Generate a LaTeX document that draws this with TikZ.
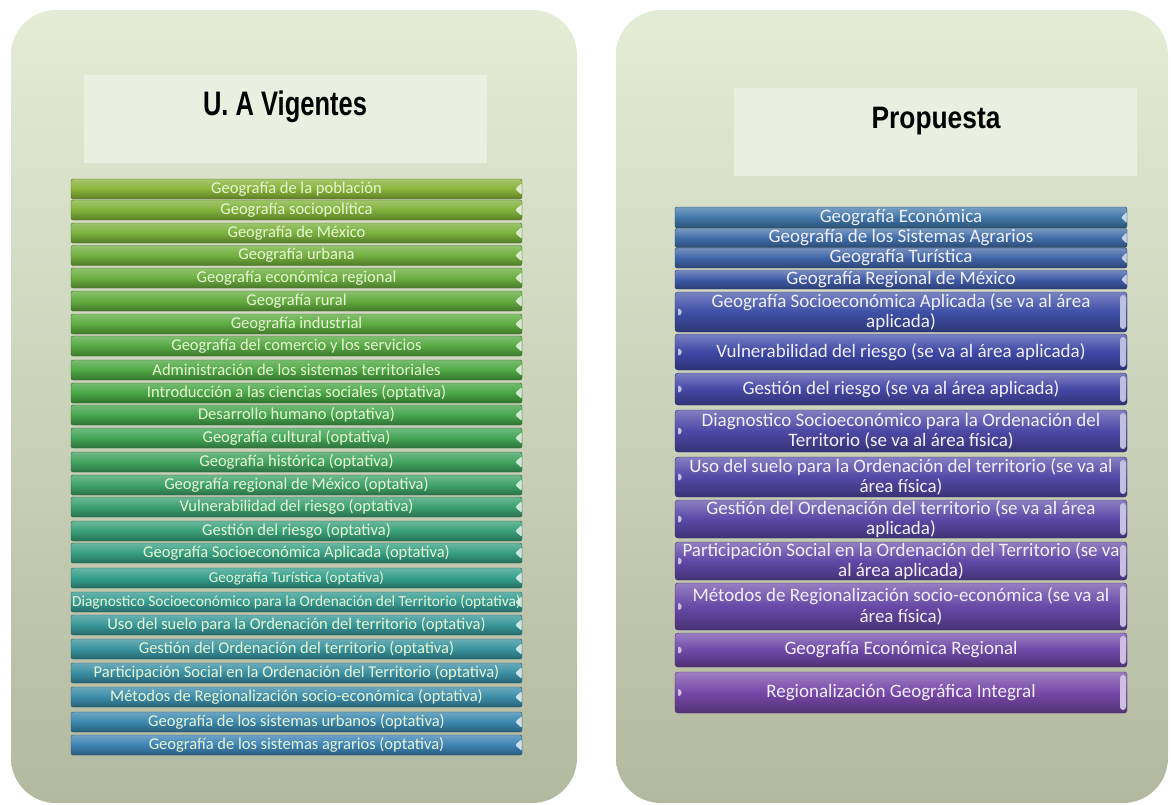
\documentclass[tikz,border=0pt]{standalone}
\usepackage{fontspec}
\setmainfont{Carlito}
\newfontfamily\headfont{Liberation Sans}
\usepackage{graphicx}
\definecolor{vA}{HTML}{88B43A}
\definecolor{vB}{HTML}{47A644}
\definecolor{vC}{HTML}{359E8C}
\definecolor{vD}{HTML}{3D83B4}
\definecolor{pA}{HTML}{3F76A8}
\definecolor{pB}{HTML}{3E48A6}
\definecolor{pC}{HTML}{7748A8}
\definecolor{boxtop}{HTML}{E4ECD6}
\definecolor{boxbot}{HTML}{B3B99F}
\definecolor{band}{HTML}{E9F0E0}
\definecolor{vtext}{HTML}{E8F5D5}
\definecolor{ptext}{HTML}{F2F0FF}

\begin{document}
\begin{tikzpicture}[x=1pt,y=-1pt,
    band/.style={fill=band,minimum width=403pt,minimum height=88pt,inner sep=0pt},
    head/.style={anchor=base,font=\headfont\bfseries\fontsize{34}{36}\selectfont},
    vbar/.style={minimum width=451pt,minimum height=20pt,inner sep=0pt,rounded corners=2pt,
        draw=#1!60!black,top color=#1!75!white,bottom color=#1!70!black,middle color=#1,
        text=vtext,font=\fontsize{16.5}{17}\selectfont,
        path picture={\fill[#1!25!white] ([yshift=6pt]path picture bounding box.east)
            -- ([xshift=-7pt]path picture bounding box.east)
            -- ([yshift=-6pt]path picture bounding box.east) -- cycle;}},
    ptop/.style={minimum width=452pt,minimum height=19pt,inner sep=0pt,rounded corners=2pt,
        draw=#1!60!black,top color=#1!70!white,bottom color=#1!70!black,middle color=#1,
        text=ptext,font=\fontsize{19}{20}\selectfont,
        path picture={\fill[#1!30!white] ([yshift=6pt]path picture bounding box.east)
            -- ([xshift=-6pt]path picture bounding box.east)
            -- ([yshift=-6pt]path picture bounding box.east) -- cycle;}},
    pbar/.style 2 args={minimum width=452pt,minimum height=#2,inner sep=0pt,align=center,
        rounded corners=3pt,draw=#1!60!black,top color=#1!70!white,bottom color=#1!70!black,
        middle color=#1,text=ptext,font=\fontsize{19}{20.5}\selectfont,
        path picture={
            \fill[#1!35!white] ([xshift=3pt,yshift=5pt]path picture bounding box.west)
                -- ([xshift=8pt]path picture bounding box.west)
                -- ([xshift=3pt,yshift=-5pt]path picture bounding box.west) -- cycle;
            \fill[#1!35!white,rounded corners=3pt]
                ([xshift=-7pt,yshift=-3pt]path picture bounding box.north east)
                rectangle ([xshift=-1pt,yshift=3pt]path picture bounding box.south east);}}]

\useasboundingbox (0,0) rectangle (1171,804);

% the two panels
\shade[rounded corners=45pt,top color=boxtop,bottom color=boxbot] (11,10) rectangle (577,803);
\shade[rounded corners=45pt,top color=boxtop,bottom color=boxbot] (616,10) rectangle (1168,803);

\node[band] (bv) at (285.5,119) {};
\node[band] (bp) at (935,131.5) {};
\node[head] (tv) at (285,115) {\scalebox{0.75}[1]{U. A Vigentes}};
\node[head,font=\headfont\bfseries\fontsize{31}{33}\selectfont] (tp) at (936,128) {\scalebox{0.85}[1]{Propuesta}};

% U. A vigentes
\node[vbar=vA] (v1) at (296.5,189) {Geografía de la población};
\node[vbar=vA!88!vB] (v2) at (296.5,210) {Geografía sociopolítica};
\node[vbar=vA!77!vB] (v3) at (296.5,233) {Geografía de México};
\node[vbar=vA!66!vB] (v4) at (296.5,255.5) {Geografía urbana};
\node[vbar=vA!55!vB] (v5) at (296.5,278) {Geografía económica regional};
\node[vbar=vA!44!vB] (v6) at (296.5,301) {Geografía rural};
\node[vbar=vA!33!vB] (v7) at (296.5,324) {Geografía industrial};
\node[vbar=vA!22!vB] (v8) at (296.5,346) {Geografía del comercio y los servicios};
\node[vbar=vA!11!vB] (v9) at (296.5,370) {Administración de los sistemas territoriales};
\node[vbar=vB] (v10) at (296.5,393) {Introducción a las ciencias sociales (optativa)};
\node[vbar=vB!88!vC] (v11) at (296.5,415) {Desarrollo humano (optativa)};
\node[vbar=vB!75!vC] (v12) at (296.5,438) {Geografía cultural (optativa)};
\node[vbar=vB!63!vC] (v13) at (296.5,462) {Geografía histórica (optativa)};
\node[vbar=vB!50!vC] (v14) at (296.5,485) {Geografía regional de México (optativa)};
\node[vbar=vB!38!vC] (v15) at (296.5,507) {Vulnerabilidad del riesgo (optativa)};
\node[vbar=vB!25!vC] (v16) at (296.5,531) {Gestión del riesgo (optativa)};
\node[vbar=vB!12!vC] (v17) at (296.5,553) {Geografía Socioeconómica Aplicada (optativa)};
\node[vbar=vC,font=\fontsize{15}{16}\selectfont] (v18) at (296.5,578) {Geografía Turística (optativa)};
\node[vbar=vC!86!vD,font=\fontsize{15.4}{16}\selectfont] (v19) at (296.5,602) {Diagnostico Socioeconómico para la Ordenación del Territorio (optativa)};
\node[vbar=vC!72!vD] (v20) at (296.5,625) {Uso del suelo para la Ordenación del territorio (optativa)};
\node[vbar=vC!58!vD] (v21) at (296.5,649) {Gestión del Ordenación del  territorio (optativa)};
\node[vbar=vC!44!vD] (v22) at (296.5,673) {Participación Social en la Ordenación del Territorio (optativa)};
\node[vbar=vC!30!vD] (v23) at (296.5,697) {Métodos de Regionalización socio-económica (optativa)};
\node[vbar=vC!15!vD] (v24) at (296.5,722) {Geografía de los sistemas urbanos (optativa)};
\node[vbar=vD] (v25) at (296.5,745) {Geografía de los sistemas agrarios (optativa)};

% propuesta
\node[ptop=pA,minimum height=21pt] (p1) at (901,217.5) {Geografía Económica};
\node[ptop=pA!80!pB] (p2) at (901,238) {Geografía de los Sistemas Agrarios};
\node[ptop=pA!60!pB,minimum height=20pt] (p3) at (901,258) {Geografía Turística};
\node[ptop=pA!40!pB] (p4) at (901,279.5) {Geografía Regional de México};
\node[pbar={pA!15!pB}{40pt}] (p5) at (901,312) {Geografía Socioeconómica Aplicada (se va al área\\aplicada)};
\node[pbar={pB}{36pt}] (p6) at (901,352) {Vulnerabilidad del riesgo (se va al área aplicada)};
\node[pbar={pB!88!pC}{32pt}] (p7) at (901,389) {Gestión del riesgo (se va al área aplicada)};
\node[pbar={pB!76!pC}{42pt}] (p8) at (901,431) {Diagnostico Socioeconómico para la Ordenación del\\Territorio (se va al área física)};
\node[pbar={pB!64!pC}{40pt}] (p9) at (901,477) {Uso del suelo para la Ordenación del territorio (se va al\\área física)};
\node[pbar={pB!52!pC}{38pt}] (p10) at (901,519) {Gestión del Ordenación del  territorio (se va al área\\aplicada)};
\node[pbar={pB!40!pC}{38pt}] (p11) at (901,561) {Participación Social en la Ordenación del Territorio (se va\\al área aplicada)};
\node[pbar={pB!28!pC}{47pt}] (p12) at (901,606.5) {Métodos de Regionalización socio-económica (se va al\\área física)};
\node[pbar={pB!14!pC}{34pt}] (p13) at (901,650) {Geografía Económica Regional};
\node[pbar={pC}{41pt}] (p14) at (901,692.5) {Regionalización Geográfica Integral};
\end{tikzpicture}
\end{document}
